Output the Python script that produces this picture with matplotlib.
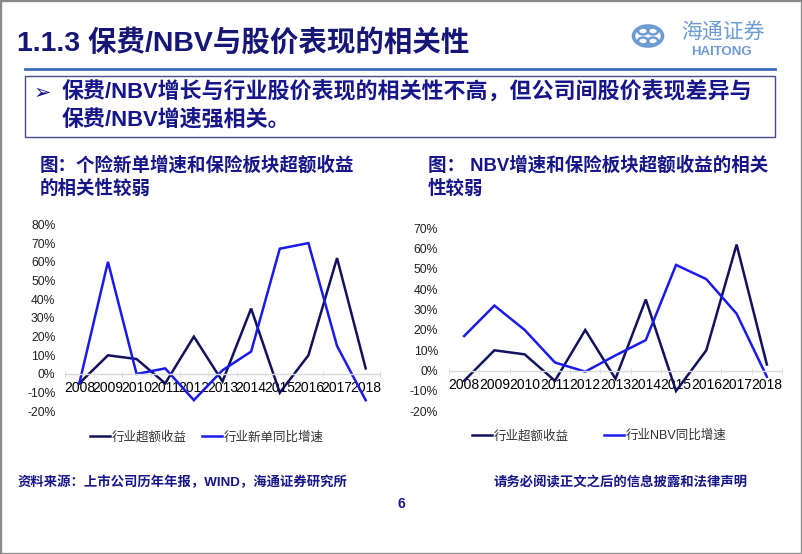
import matplotlib
matplotlib.use("Agg")
import matplotlib.pyplot as plt
from matplotlib.patches import Rectangle, Circle
from matplotlib.lines import Line2D

plt.rcParams['font.family'] = ['Liberation Sans', 'Noto Sans CJK SC', 'DejaVu Sans']
plt.rcParams['axes.unicode_minus'] = False

# ---------------- data ----------------
years = ['2008', '2009', '2010', '2011', '2012', '2013', '2014', '2015', '2016', '2017', '2018']
excess_return = [-5, 10, 8, -5, 20, -4, 35, -10, 10, 62, 3]          # 行业超额收益 (%)
new_business_growth = [-5, 60, 0, 3, -14, 2, 12, 67, 70, 15, -14]    # 行业新单同比增速 (%)
nbv_growth = [17, 32, 20, 4, -0.5, 7.5, 15, 52, 45, 28, -3]          # 行业NBV同比增速 (%)

left_yticks = [-20, -10, 0, 10, 20, 30, 40, 50, 60, 70, 80]
right_yticks = [-20, -10, 0, 10, 20, 30, 40, 50, 60, 70]

label_excess = '行业超额收益'
label_new = '行业新单同比增速'
label_nbv = '行业NBV同比增速'

title_main = '1.1.3 保费/NBV与股价表现的相关性'
bullet_lines = ['保费/NBV增长与行业股价表现的相关性不高，但公司间股价表现差异与',
                '保费/NBV增速强相关。']
left_title = ['图：个险新单增速和保险板块超额收益', '的相关性较弱']
right_title = ['图： NBV增速和保险板块超额收益的相关', '性较弱']
source_text = '资料来源：上市公司历年年报，WIND，海通证券研究所'
disclaimer = '请务必阅读正文之后的信息披露和法律声明'
page_no = '6'

# ---------------- styles ----------------
W, H = 802, 554
DARK = '#12125c'
BLUE = '#1a1aeb'
NAVY_TXT = '#16168a'
TITLE_C = '#161676'
LOGO_C = '#6e9bd2'

fig = plt.figure(figsize=(W / 100, H / 100), dpi=100)
fig.patch.set_facecolor('white')


def fx(x):
    return x / W


def fy(y):
    return 1 - y / H


def make_axes(x0, x1, ytop, ybot, ymin, ymax, yticks, series, colors, labels,
              leg_center, colspace, ypad):
    ax = fig.add_axes([fx(x0), fy(ybot), fx(x1) - fx(x0), (ybot - ytop) / H])
    xs = list(range(len(years)))
    for s, c, l in zip(series, colors, labels):
        ax.plot(xs, s, color=c, lw=1.8, label=l, solid_joinstyle='miter')
    ax.set_xlim(-0.5, len(years) - 0.5)
    ax.set_ylim(ymin, ymax)
    ax.set_yticks(yticks)
    ax.set_yticklabels([f'{v:.0f}%' for v in yticks], fontsize=8.7, color='#222222')
    ax.set_xticks(xs)
    ax.set_xticklabels(years, fontsize=8.7, color='#222222')
    ax.set_xticks([i - 0.5 for i in range(len(years) + 1)], minor=True)
    for sp in ['top', 'right', 'left']:
        ax.spines[sp].set_visible(False)
    ax.spines['bottom'].set_position(('data', 0))
    ax.spines['bottom'].set_color('#d9d9d9')
    ax.spines['bottom'].set_linewidth(1.0)
    ax.tick_params(axis='y', length=0, pad=ypad)
    ax.tick_params(axis='x', which='major', length=0, pad=5)
    ax.tick_params(axis='x', which='minor', length=4, color='#d9d9d9', direction='inout')
    ax.patch.set_alpha(0)
    leg = ax.legend(loc='center', bbox_to_anchor=(fx(leg_center[0]), fy(leg_center[1])),
                    bbox_transform=fig.transFigure, ncol=2, frameon=False,
                    fontsize=9, handlelength=1.6, handletextpad=0.15,
                    columnspacing=colspace, borderpad=0, borderaxespad=0)
    for t in leg.get_texts():
        t.set_color('#333333')
    return ax


make_axes(65, 380, 224.4, 411.4, -20, 80, left_yticks,
          [excess_return, new_business_growth], [DARK, BLUE], [label_excess, label_new],
          (207, 437), 1.2, 7)
make_axes(449, 782, 228.3, 411.3, -20, 70, right_yticks,
          [excess_return, nbv_growth], [DARK, BLUE], [label_excess, label_nbv],
          (599, 436), 2.8, 8)

# ---------------- slide decorations ----------------
fig.text(fx(17), fy(43), title_main, fontsize=20.5, fontweight='bold', color=TITLE_C,
         ha='left', va='center')

fig.add_artist(Line2D([fx(25), fx(775)], [fy(69), fy(69)], color='#3b6cb4', lw=2.0))
fig.add_artist(Rectangle((fx(25), fy(137)), fx(775) - fx(25), (137 - 76) / H,
                         transform=fig.transFigure, fill=False, edgecolor='#4a4a8e', lw=1.0))

fig.text(fx(34), fy(93), '➢', fontsize=15, color=NAVY_TXT, ha='left', va='center',
         family=['DejaVu Sans'])
fig.text(fx(62), fy(93), bullet_lines[0], fontsize=15.8, fontweight='bold', color=NAVY_TXT,
         ha='left', va='center')
fig.text(fx(62), fy(120), bullet_lines[1], fontsize=15.8, fontweight='bold', color=NAVY_TXT,
         ha='left', va='center')

# logo
fig.add_artist(Circle((fx(648), fy(36)), 14.5 / W, transform=fig.transFigure,
                      fill=False, edgecolor=LOGO_C, lw=2.6))
for dx, dy in [(-5, -5), (5, -5), (-5, 5), (5, 5)]:
    fig.add_artist(Circle((fx(648 + dx), fy(36 + dy)), 5 / W, transform=fig.transFigure,
                          fill=False, edgecolor=LOGO_C, lw=1.8))
fig.text(fx(723), fy(33), '海通证券', fontsize=15, color=LOGO_C, ha='center', va='center')
fig.text(fx(721), fy(52), 'HAITONG', fontsize=9.5, fontweight='bold', color=LOGO_C,
         ha='center', va='center')

# chart titles
fig.text(fx(40), fy(165), left_title[0], fontsize=13.3, fontweight='bold', color=NAVY_TXT,
         ha='left', va='center')
fig.text(fx(40), fy(189), left_title[1], fontsize=13.3, fontweight='bold', color=NAVY_TXT,
         ha='left', va='center')
fig.text(fx(428), fy(165), right_title[0], fontsize=13.3, fontweight='bold', color=NAVY_TXT,
         ha='left', va='center')
fig.text(fx(428), fy(189), right_title[1], fontsize=13.3, fontweight='bold', color=NAVY_TXT,
         ha='left', va='center')

# footer
fig.text(fx(18), fy(482), source_text, fontsize=9.6, fontweight='bold', color=NAVY_TXT,
         ha='left', va='center')
fig.text(fx(494), fy(483), disclaimer, fontsize=9.6, fontweight='bold', color=NAVY_TXT,
         ha='left', va='center')
fig.text(fx(401), fy(504), page_no, fontsize=10, fontweight='bold', color=NAVY_TXT,
         ha='center', va='center')

# outer border
fig.add_artist(Rectangle((0, 0), 1, 1, transform=fig.transFigure, fill=False,
                         edgecolor='#8a8a8a', lw=2.4))

fig.savefig('out.png', dpi=100, facecolor='white')
